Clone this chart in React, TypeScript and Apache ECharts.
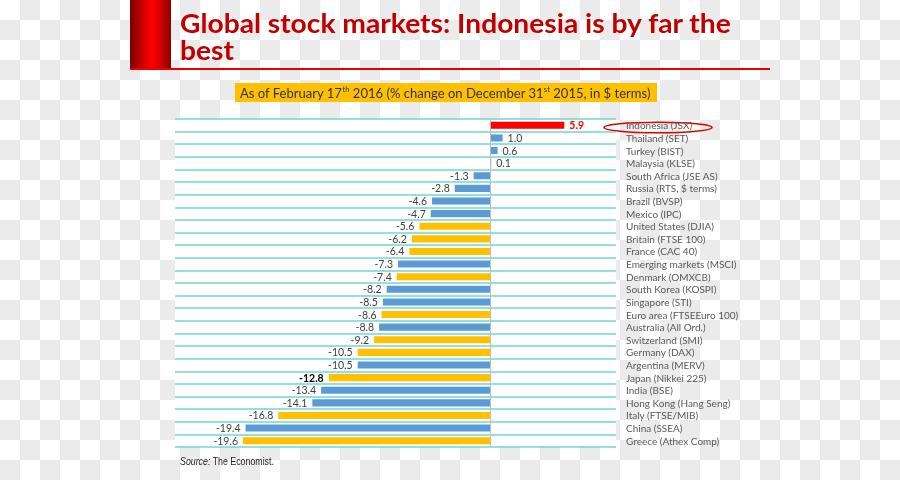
import React, { useEffect, useRef } from "react";
import * as echarts from "echarts";

const categories = [
  "Indonesia (JSX)", "Thailand (SET)", "Turkey (BIST)", "Malaysia (KLSE)",
  "South Africa (JSE AS)", "Russia (RTS, $ terms)", "Brazil (BVSP)", "Mexico (IPC)",
  "United States (DJIA)", "Britain (FTSE 100)", "France (CAC 40)", "Emerging markets (MSCI)",
  "Denmark (OMXCB)", "South Korea (KOSPI)", "Singapore (STI)", "Euro area (FTSEEuro 100)",
  "Australia (All Ord.)", "Switzerland (SMI)", "Germany (DAX)", "Argentina (MERV)",
  "Japan (Nikkei 225)", "India (BSE)", "Hong Kong (Hang Seng)", "Italy (FTSE/MIB)",
  "China (SSEA)", "Greece (Athex Comp)",
];
const changes = [
  5.9, 1.0, 0.6, 0.1, -1.3, -2.8, -4.6, -4.7, -5.6, -6.2, -6.4, -7.3, -7.4,
  -8.2, -8.5, -8.6, -8.8, -9.2, -10.5, -10.5, -12.8, -13.4, -14.1, -16.8, -19.4, -19.6,
];
const groups = [
  "top", "em", "em", "em", "em", "em", "em", "em", "dev", "dev", "dev", "em", "dev",
  "em", "em", "dev", "em", "dev", "dev", "em", "dev", "em", "em", "dev", "em", "dev",
];
const boldLabels = ["Japan (Nikkei 225)"];
const xTicks = { min: -25, max: 10 };

const groupColors: Record<string, string> = { top: "#ff0000", em: "#5b9bd5", dev: "#ffc000" };

export default function App() {
  const ref = useRef<HTMLDivElement>(null);
  useEffect(() => {
    if (!ref.current) return;
    const chart = echarts.init(ref.current, null, { renderer: "svg" });
    const data = categories.map((c, i) => {
      const v = changes[i];
      const g = groups[i];
      return {
        value: v,
        itemStyle: { color: groupColors[g] },
        label: {
          position: v >= 0 ? "right" : "left",
          color: g === "top" ? "#ff0000" : boldLabels.includes(c) ? "#000000" : "#404040",
          fontWeight: boldLabels.includes(c) || g === "top" ? "bold" : "normal",
        },
      };
    });
    chart.setOption({
      animation: false,
      grid: {
        left: 175, right: 284, top: 119, bottom: 33,
        show: true, backgroundColor: "#ffffff", borderWidth: 0,
      },
      xAxis: { type: "value", min: xTicks.min, max: xTicks.max, show: false },
      yAxis: {
        type: "category",
        data: categories,
        inverse: true,
        position: "right",
        axisLine: { show: false },
        axisTick: { show: false },
        axisLabel: {
          interval: 0, margin: 10, fontFamily: "Lato", fontSize: 10, color: "#595959",
        },
        splitLine: { show: true, interval: 0, lineStyle: { color: "#6ed6d6", width: 1.5 } },
      },
      series: [
        {
          type: "bar",
          data,
          barWidth: "56%",
          label: {
            show: true,
            fontFamily: "Lato",
            fontSize: 10.5,
            distance: 5,
            formatter: (p: any) => Number(p.value).toFixed(1),
          },
          markLine: {
            silent: true,
            symbol: "none",
            label: { show: false },
            lineStyle: { color: "#bfbfbf", width: 1, type: "solid" },
            data: [{ xAxis: 0 }],
          },
        },
      ],
      graphic: [
        {
          type: "rect",
          shape: { x: 130, y: 0, width: 41, height: 69 },
          style: {
            fill: new echarts.graphic.LinearGradient(0, 0, 1, 0, [
              { offset: 0, color: "#7a0000" },
              { offset: 0.5, color: "#ff0000" },
              { offset: 0.62, color: "#f20000" },
              { offset: 1, color: "#8c0000" },
            ]),
          },
        },
        {
          type: "line",
          shape: { x1: 130, y1: 69, x2: 770, y2: 69 },
          style: { stroke: "#e60000", lineWidth: 2 },
        },
        {
          type: "text",
          x: 180, y: 9.5,
          scaleX: 1.045,
          style: {
            text: "Global stock markets: Indonesia is by far the\nbest",
            fontFamily: "Lato", fontSize: 27, fontWeight: "bold", fill: "#c00000",
            lineHeight: 27,
            align: "left", verticalAlign: "top", textAlign: "left", textVerticalAlign: "top",
          },
        },
        {
          type: "rect",
          shape: { x: 235, y: 83, width: 422, height: 19 },
          style: { fill: "#ffc000" },
        },
        {
          type: "text",
          x: 240, y: 93,
          scaleX: 0.96,
          style: {
            text: "{n|As of February 17}{s|th}{n| 2016 (% change on December 31}{s|st}{n| 2015, in $ terms)}",
            fontFamily: "Lato", fontSize: 13.6, fill: "#333333",
            align: "left", verticalAlign: "middle", textAlign: "left", textVerticalAlign: "middle",
            rich: {
              n: { fontFamily: "Lato", fontSize: 13.6, lineHeight: 16, fill: "#333333", color: "#333333" },
              s: { fontFamily: "Lato", fontSize: 8, lineHeight: 9, verticalAlign: "top", fill: "#333333", color: "#333333" },
            },
          },
        },
        {
          type: "ellipse",
          shape: { cx: 658, cy: 127.5, rx: 54, ry: 5.2 },
          style: { fill: "none", stroke: "#e00000", lineWidth: 1.5 },
        },
        {
          type: "text",
          x: 180, y: 461,
          scaleX: 0.84,
          style: {
            text: "{i|Source:}{n| The Economist.}",
            fontFamily: "Liberation Sans", fontSize: 10.5, fill: "#222222",
            align: "left", verticalAlign: "middle", textAlign: "left", textVerticalAlign: "middle",
            rich: {
              i: { fontFamily: "Liberation Sans", fontSize: 10.5, fontStyle: "italic", fill: "#222222", color: "#222222" },
              n: { fontFamily: "Liberation Sans", fontSize: 10.5, fill: "#222222", color: "#222222" },
            },
          },
        },
      ],
    });
    return () => chart.dispose();
  }, []);
  return (
    <div
      style={{
        position: "fixed", left: 0, top: 0, width: 900, height: 480,
        backgroundImage: "repeating-conic-gradient(#ebebeb 0% 25%, #ffffff 0% 50%)",
        backgroundSize: "40px 40px",
      }}
    >
      <div ref={ref} style={{ width: 900, height: 480 }} />
    </div>
  );
}
